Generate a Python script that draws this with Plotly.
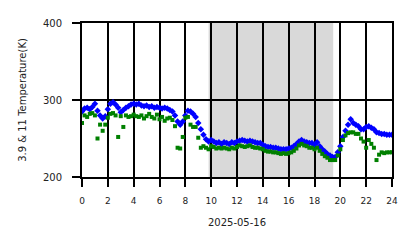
import plotly.graph_objects as go

hours = [round(i * 0.2, 1) for i in range(121)]

t39 = [285, 289, 290, 288, 291, 295, 286, 280, 276, 279,
       288, 295, 297, 294, 290, 284, 287, 290, 292, 294,
       295, 294, 295, 293, 292, 293, 291, 292, 290, 291,
       290, 289, 290, 289, 287, 285, 280, 272, 268, 272,
       280, 286, 285, 282, 278, 270, 262, 255, 249, 246,
       248, 246, 244, 245, 243, 245, 244, 243, 245, 244,
       246, 247, 248, 247, 246, 247, 246, 245, 244, 244,
       242, 240, 239, 239, 238, 238, 237, 236, 236, 236,
       237, 238, 240, 243, 246, 248, 246, 245, 244, 244,
       242, 245, 240, 236, 233, 230, 228, 226, 226, 232,
       240, 252, 260, 268, 275, 270, 268, 266, 262, 262,
       265, 266, 264, 262, 258, 257, 256, 256, 255, 255,
       255]

t11 = [270, 280, 278, 282, 283, 280, 250, 268, 260, 268,
       277, 282, 283, 280, 252, 279, 265, 280, 278, 279,
       281, 279, 278, 280, 276, 279, 282, 278, 276, 281,
       275, 278, 273, 276, 277, 274, 266, 238, 237, 252,
       277, 278, 268, 265, 265, 251, 238, 240, 238, 236,
       240, 239, 237, 238, 237, 238, 237, 236, 238, 237,
       239, 241, 240, 239, 240, 241, 239, 238, 238, 237,
       236, 234, 233, 233, 232, 232, 231, 230, 231, 230,
       231, 232, 234, 237, 241, 243, 241, 240, 238, 238,
       236, 238, 234, 230, 227, 225, 222, 222, 222, 228,
       236, 248, 254, 257, 258, 258, 256, 256, 250, 246,
       238, 248, 243, 238, 222, 229, 232, 231, 232, 232,
       232]

night_start = 9.8
night_end = 19.45
x_ticks = list(range(0, 25, 2))
y_ticks = [200, 300, 400]

fig = go.Figure()
fig.add_shape(type="rect", xref="x", yref="paper", x0=night_start, x1=night_end,
              y0=0, y1=1, fillcolor="#d9d9d9", line_width=0, layer="below")
fig.add_trace(go.Scatter(x=hours, y=t39, mode="markers",
                         marker=dict(symbol="diamond", size=5, color="#0000ff"),
                         name="3.9"))
fig.add_trace(go.Scatter(x=hours, y=t11, mode="markers",
                         marker=dict(symbol="square", size=4, color="#008000"),
                         name="11"))

fig.update_layout(
    width=418, height=248,
    margin=dict(l=82, r=26, t=23, b=71),
    plot_bgcolor="white", paper_bgcolor="white",
    showlegend=False,
    font=dict(family="DejaVu Sans", color="#222222"),
)
fig.update_xaxes(range=[0, 24], tickvals=x_ticks, ticktext=[str(v) for v in x_ticks],
                 showgrid=True, gridcolor="black", gridwidth=2,
                 showline=True, mirror=True, linecolor="black", linewidth=2,
                 ticks="outside", ticklen=8, tickwidth=2, tickcolor="black",
                 ticklabelstandoff=6,
                 tickfont=dict(size=9), zeroline=False,
                 title=dict(text="2025-05-16", font=dict(size=10), standoff=14))
fig.update_yaxes(range=[200, 400], tickvals=y_ticks,
                 showgrid=True, gridcolor="black", gridwidth=2,
                 showline=True, mirror=True, linecolor="black", linewidth=2,
                 ticks="outside", ticklen=8, tickwidth=2, tickcolor="black",
                 ticklabelstandoff=8,
                 tickfont=dict(size=10), zeroline=False,
                 title=dict(text="3.9 & 11 Temperature(K)", font=dict(size=10), standoff=14))

fig.write_html("out.html")
